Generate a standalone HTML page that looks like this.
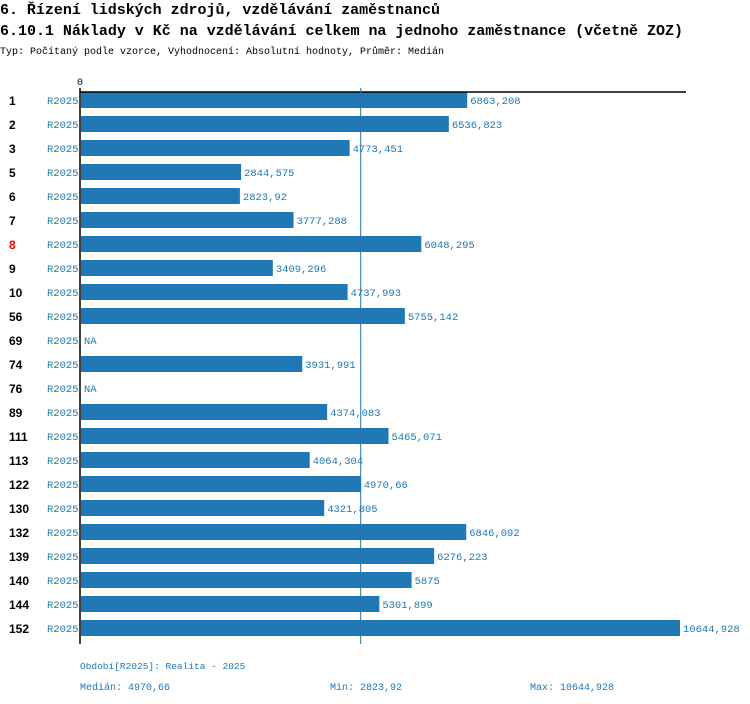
<!DOCTYPE html>
<html><head><meta charset="utf-8"><style>
body{margin:0;background:#fff}
svg{display:block}
</style></head><body>
<svg width="750" height="704" font-family="'Liberation Mono', monospace">
<text x="0" y="14" font-size="15" font-weight="bold" textLength="440">6. Řízení lidských zdrojů, vzdělávání zaměstnanců</text>
<text x="0" y="35" font-size="15" font-weight="bold" textLength="683">6.10.1 Náklady v Kč na vzdělávání celkem na jednoho zaměstnance (včetně ZOZ)</text>
<text x="0" y="54" font-size="10" textLength="444">Typ: Počítaný podle vzorce, Vyhodnocení: Absolutní hodnoty, Průměr: Medián</text>
<text x="77" y="85" font-size="10">0</text>
<g id="bars"></g>
<line x1="80" y1="92" x2="686" y2="92" stroke="#000" stroke-width="1.5"/>
<line x1="80" y1="88" x2="80" y2="644" stroke="#000" stroke-width="1.5"/>
<line id="med" y1="88" y2="644" stroke="#1f77b4" stroke-width="1"/>
<g fill="#1f77b4" font-size="10">
<text x="80" y="669" font-size="9.5">Období[R2025]: Realita - 2025</text>
<text x="80" y="690">Medián: 4970,66</text>
<text x="330" y="690">Min: 2823,92</text>
<text x="530" y="690">Max: 10644,928</text>
</g>
</svg>
<script>
const categories=["1","2","3","5","6","7","8","9","10","56","69","74","76","89","111","113","122","130","132","139","140","144","152"];
const values=[6863.208,6536.823,4773.451,2844.575,2823.92,3777.288,6048.295,3409.296,4737.993,5755.142,null,3931.991,null,4374.083,5465.071,4064.304,4970.66,4321.805,6846.092,6276.223,5875,5301.899,10644.928];
const labels=["6863,208","6536,823","4773,451","2844,575","2823,92","3777,288","6048,295","3409,296","4737,993","5755,142","NA","3931,991","NA","4374,083","5465,071","4064,304","4970,66","4321,805","6846,092","6276,223","5875","5301,899","10644,928"];
const median=4970.66;
const NS="http://www.w3.org/2000/svg";
const x=v=>81+v*(599/10644.928);
const y=i=>100+i*24;
const g=document.getElementById('bars');
document.getElementById('med').setAttribute('x1',x(median));
document.getElementById('med').setAttribute('x2',x(median));
categories.forEach((c,i)=>{
  const t=document.createElementNS(NS,'text');
  t.setAttribute('x',9);t.setAttribute('y',y(i)+5);
  t.setAttribute('font-size','12');t.setAttribute('font-weight','bold');
  t.setAttribute('font-family',"'Liberation Sans', sans-serif");
  t.setAttribute('fill',c==="8"?"#e00":"#000");
  t.textContent=c;
  
  
  g.appendChild(t);
  const p=document.createElementNS(NS,'text');
  p.setAttribute('x',47);p.setAttribute('y',y(i)+4);p.setAttribute('font-size','10.5');p.setAttribute('fill','#1f77b4');
  p.textContent="R2025";
  
  
  g.appendChild(p);
  const v=values[i];
  let end=81;
  if(v!==null){
    const r=document.createElementNS(NS,'rect');
    r.setAttribute('x',81);r.setAttribute('y',y(i)-8);r.setAttribute('width',x(v)-81);r.setAttribute('height',16);
    r.setAttribute('fill','#1f77b4');
    
    
    g.appendChild(r);
    end=x(v);
  }
  const l=document.createElementNS(NS,'text');
  l.setAttribute('x',end+3);l.setAttribute('y',y(i)+4);l.setAttribute('font-size','10.5');l.setAttribute('fill','#1f77b4');
  l.textContent=labels[i];
  
  
  g.appendChild(l);
});
</script>
</body></html>
